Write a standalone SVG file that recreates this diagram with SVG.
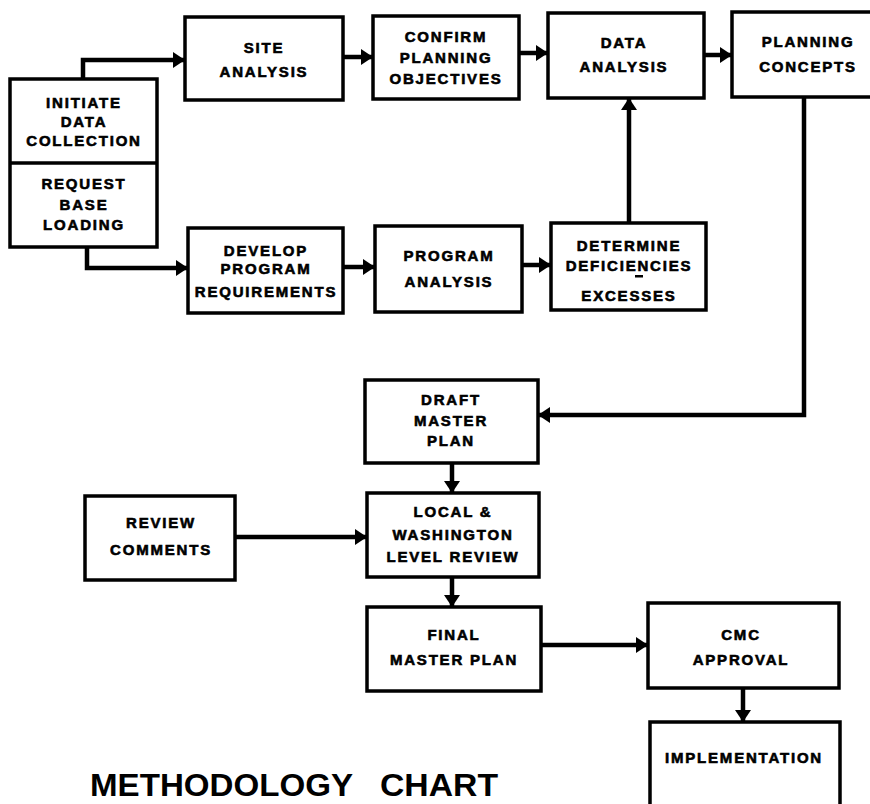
<svg xmlns="http://www.w3.org/2000/svg" width="870" height="804" viewBox="0 0 870 804">
<style>
.box{fill:#fff;stroke:#000;stroke-width:3.5}
.lbl{font-family:"Liberation Sans",Arial,sans-serif;font-weight:bold;font-size:15px;letter-spacing:1.8px;text-anchor:middle;fill:#000;stroke:#000;stroke-width:0.6}
.con{fill:none;stroke:#000;stroke-width:4.5}
.title{font-family:"Liberation Sans",Arial,sans-serif;font-weight:bold;font-size:32px;fill:#000}
</style>
<defs>
<marker id="ah" markerUnits="userSpaceOnUse" markerWidth="12" markerHeight="16" refX="11" refY="8" orient="auto">
<path d="M0,0 L12,8 L0,16 z" fill="#000"/>
</marker>
</defs>
<rect width="870" height="804" fill="#fff"/>

<g id="connectors">
<path class="con" d="M83,79 V60 H184" marker-end="url(#ah)"/>
<path class="con" d="M87,247 V268 H187" marker-end="url(#ah)"/>
<path class="con" d="M343,57 H372" marker-end="url(#ah)"/>
<path class="con" d="M519,53 H547" marker-end="url(#ah)"/>
<path class="con" d="M704,55 H731" marker-end="url(#ah)"/>
<path class="con" d="M343,267 H374" marker-end="url(#ah)"/>
<path class="con" d="M522,265 H550" marker-end="url(#ah)"/>
<path class="con" d="M629,223 V99" marker-end="url(#ah)"/>
<path class="con" d="M804,97 V415 H539" marker-end="url(#ah)"/>
<path class="con" d="M452,463 V492" marker-end="url(#ah)"/>
<path class="con" d="M235,537 H366" marker-end="url(#ah)"/>
<path class="con" d="M452,577 V606" marker-end="url(#ah)"/>
<path class="con" d="M541,645 H647" marker-end="url(#ah)"/>
<path class="con" d="M743,688 V721" marker-end="url(#ah)"/>
</g>

<g id="initiate">
<rect class="box" x="10" y="79" width="147" height="168"/>
<line x1="10" y1="163" x2="157" y2="163" stroke="#000" stroke-width="3.5"/>
<text class="lbl" x="84" y="108">INITIATE</text>
<text class="lbl" x="84" y="127">DATA</text>
<text class="lbl" x="84" y="146">COLLECTION</text>
<text class="lbl" x="84" y="189">REQUEST</text>
<text class="lbl" x="84" y="210">BASE</text>
<text class="lbl" x="84" y="230">LOADING</text>
</g>

<g id="site">
<rect class="box" x="185" y="17" width="158" height="83"/>
<text class="lbl" x="264" y="53">SITE</text>
<text class="lbl" x="264" y="77">ANALYSIS</text>
</g>

<g id="confirm">
<rect class="box" x="373" y="16" width="146" height="83"/>
<text class="lbl" x="446" y="42">CONFIRM</text>
<text class="lbl" x="446" y="63">PLANNING</text>
<text class="lbl" x="446" y="84">OBJECTIVES</text>
</g>

<g id="data">
<rect class="box" x="548" y="13" width="156" height="85"/>
<text class="lbl" x="624" y="48">DATA</text>
<text class="lbl" x="624" y="72">ANALYSIS</text>
</g>

<g id="planning">
<rect class="box" x="732" y="12" width="142" height="85"/>
<text class="lbl" x="808" y="47">PLANNING</text>
<text class="lbl" x="808" y="72">CONCEPTS</text>
</g>

<g id="develop">
<rect class="box" x="188" y="228" width="155" height="85"/>
<text class="lbl" x="266" y="256">DEVELOP</text>
<text class="lbl" x="266" y="274">PROGRAM</text>
<text class="lbl" x="266" y="297">REQUIREMENTS</text>
</g>

<g id="program">
<rect class="box" x="375" y="226" width="147" height="86"/>
<text class="lbl" x="449" y="261">PROGRAM</text>
<text class="lbl" x="449" y="287">ANALYSIS</text>
</g>

<g id="determine">
<rect class="box" x="551" y="223" width="155" height="87"/>
<text class="lbl" x="629" y="251">DETERMINE</text>
<text class="lbl" x="629" y="271">DEFICIENCIES</text>
<rect x="635" y="275" width="8" height="2.5" fill="#000"/>
<text class="lbl" x="629" y="301">EXCESSES</text>
</g>

<g id="draft">
<rect class="box" x="365" y="380" width="173" height="83"/>
<text class="lbl" x="451" y="405">DRAFT</text>
<text class="lbl" x="451" y="426">MASTER</text>
<text class="lbl" x="451" y="446">PLAN</text>
</g>

<g id="review">
<rect class="box" x="85" y="496" width="150" height="84"/>
<text class="lbl" x="161" y="528">REVIEW</text>
<text class="lbl" x="161" y="555">COMMENTS</text>
</g>

<g id="local">
<rect class="box" x="367" y="493" width="172" height="84"/>
<text class="lbl" x="453" y="517">LOCAL  &amp;</text>
<text class="lbl" x="453" y="540">WASHINGTON</text>
<text class="lbl" x="453" y="562">LEVEL REVIEW</text>
</g>

<g id="final">
<rect class="box" x="367" y="607" width="174" height="84"/>
<text class="lbl" x="454" y="640">FINAL</text>
<text class="lbl" x="454" y="665">MASTER PLAN</text>
</g>

<g id="cmc">
<rect class="box" x="648" y="603" width="191" height="85"/>
<text class="lbl" x="741" y="640">CMC</text>
<text class="lbl" x="741" y="665">APPROVAL</text>
</g>

<g id="implementation">
<rect class="box" x="650" y="722" width="190" height="95"/>
<text class="lbl" x="744" y="763">IMPLEMENTATION</text>
</g>

<g id="title">
<text class="title" x="90" y="796" textLength="263" lengthAdjust="spacingAndGlyphs">METHODOLOGY</text>
<text class="title" x="380" y="796" textLength="118" lengthAdjust="spacingAndGlyphs">CHART</text>
</g>
</svg>
